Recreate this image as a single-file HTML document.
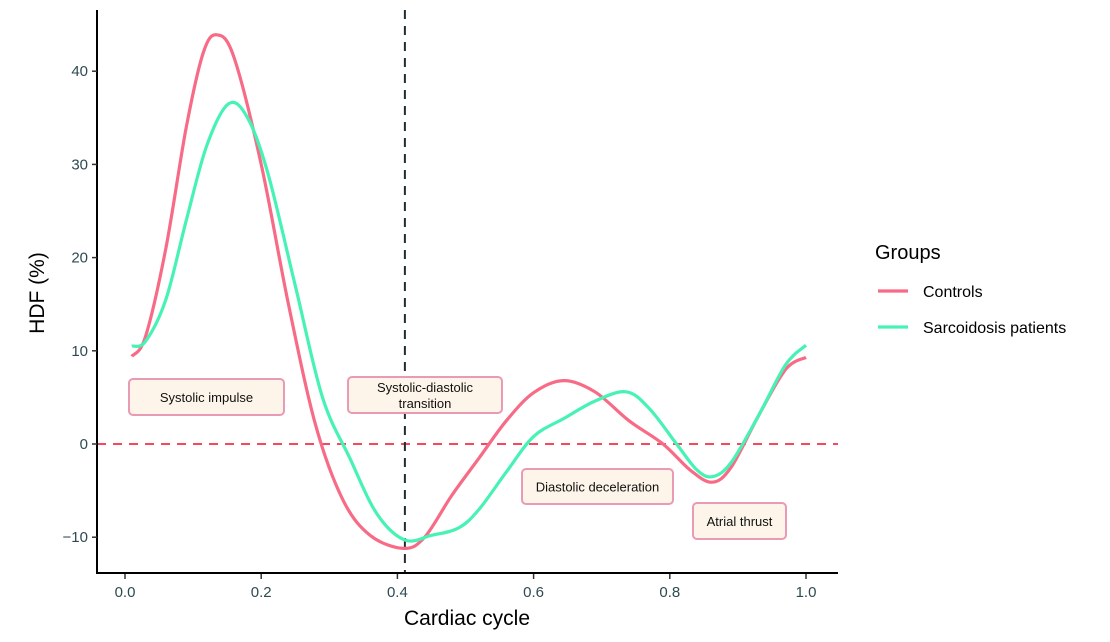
<!DOCTYPE html>
<html><head><meta charset="utf-8"><style>
html,body{margin:0;padding:0;background:#fff;}
svg{display:block;font-family:"Liberation Sans",sans-serif;}
</style></head><body>
<svg id="chart" width="1110" height="642" viewBox="0 0 1110 642"></svg>
<script>
const controlsT = [0.01,0.03,0.06,0.09,0.115,0.135,0.16,0.20,0.24,0.28,0.32,0.36,0.409,0.44,0.48,0.52,0.56,0.60,0.644,0.69,0.74,0.79,0.83,0.862,0.89,0.93,0.97,1.0];
const controlsV = [9.4,11.5,21,34,42,43.9,41.5,30,15,2,-6,-9.8,-11.2,-10,-5.5,-1.5,2.5,5.5,6.8,5.6,2.5,0,-2.8,-4.1,-2.5,3,8,9.3];
const sarcT = [0.01,0.03,0.06,0.09,0.12,0.152,0.18,0.21,0.25,0.29,0.33,0.37,0.411,0.45,0.49,0.52,0.56,0.60,0.646,0.69,0.736,0.77,0.81,0.84,0.863,0.89,0.93,0.97,1.0];
const sarcV = [10.5,11,15.5,24,32,36.5,35,29,17,5,-1.5,-7.5,-10.3,-9.8,-9,-7,-3,0.8,2.8,4.6,5.6,3.8,0,-2.8,-3.5,-2,3,8.5,10.6];
const xTicks = [0,0.2,0.4,0.6,0.8,1.0];
const xTickLabels = ["0.0","0.2","0.4","0.6","0.8","1.0"];
const yTicks = [-10,0,10,20,30,40];
const yTickLabels = ["\u221210","0","10","20","30","40"];
const vLineX = 0.411;

const X0=125, XS=681, Y0=444, YS=9.32;
const sx = t => X0 + t*XS;
const sy = v => Y0 - v*YS;
const NS="http://www.w3.org/2000/svg";
const svg=document.getElementById('chart');
function mk(tag,attrs,parent){const e=document.createElementNS(NS,tag);for(const k in attrs)e.setAttribute(k,attrs[k]);(parent||svg).appendChild(e);return e;}
function smooth(ts,vs){
  const p=ts.map((t,i)=>[sx(t),sy(vs[i])]);
  let d=`M${p[0][0]},${p[0][1]}`;
  for(let i=0;i<p.length-1;i++){
    const a=p[i-1]||p[i],b=p[i],c=p[i+1],e=p[i+2]||c;
    const c1=[b[0]+(c[0]-a[0])/6,b[1]+(c[1]-a[1])/6];
    const c2=[c[0]-(e[0]-b[0])/6,c[1]-(e[1]-b[1])/6];
    d+=` C${c1[0]},${c1[1]} ${c2[0]},${c2[1]} ${c[0]},${c[1]}`;
  }
  return d;
}
let z=mk('line',{x1:97,x2:838,y1:sy(0),y2:sy(0),stroke:'#f5485e','stroke-width':2,'stroke-dasharray':'9,7'});


let vl=mk('line',{x1:sx(vLineX),x2:sx(vLineX),y1:10,y2:573,stroke:'#1f2d33','stroke-width':2,'stroke-dasharray':'9,7'});


const boxes=[["systolic-impulse-label",129,379,155,36,["Systolic impulse"]],
["systolic-diastolic-transition-label",348,377,154,36,["Systolic-diastolic","transition"]],
["diastolic-deceleration-label",522,469,151,35,["Diastolic deceleration"]],
["atrial-thrust-label",693,503,93,36,["Atrial thrust"]]];
boxes.forEach(b=>{
  const g=mk('g',{});
  
  
  mk('rect',{x:b[1],y:b[2],width:b[3],height:b[4],rx:4,fill:'#fdf5ea',stroke:'#e99ab4','stroke-width':2},g);
  const cx=b[1]+b[3]/2,cy=b[2]+b[4]/2;
  b[5].forEach((s,i)=>{const t=mk('text',{x:cx,y:cy+5+(i-(b[5].length-1)/2)*16,'text-anchor':'middle','font-size':13,fill:'#111'},g);t.textContent=s;});
});
let pc=mk('path',{d:smooth(controlsT,controlsV),fill:'none',stroke:'#f76b86','stroke-width':3.2,'stroke-linejoin':'round'});


let ps=mk('path',{d:smooth(sarcT,sarcV),fill:'none',stroke:'#47f2b5','stroke-width':3.2,'stroke-linejoin':'round'});


let ya=mk('line',{x1:97,x2:97,y1:10,y2:574,stroke:'#000','stroke-width':2});


let xa=mk('line',{x1:96,x2:838,y1:573,y2:573,stroke:'#000','stroke-width':2});


xTicks.forEach((t,i)=>{
  mk('line',{x1:sx(t),x2:sx(t),y1:574,y2:579,stroke:'#333','stroke-width':1.5});
  const tx=mk('text',{x:sx(t),y:597,'text-anchor':'middle','font-size':15,fill:'#2e4a50'});
  tx.textContent=xTickLabels[i];
  
  
});
yTicks.forEach((v,i)=>{
  mk('line',{x1:92,x2:97,y1:sy(v),y2:sy(v),stroke:'#333','stroke-width':1.5});
  const tx=mk('text',{x:88,y:sy(v)+5,'text-anchor':'end','font-size':15,fill:'#2e4a50'});
  tx.textContent=yTickLabels[i];
  
  
});
let xt=mk('text',{x:467,y:625,'text-anchor':'middle','font-size':21,fill:'#000'});
xt.textContent='Cardiac cycle';


let yt=mk('text',{x:44,y:293,'text-anchor':'middle','font-size':21,fill:'#000',transform:'rotate(-90 44 293)'});
yt.textContent='HDF (%)';


let lg=mk('g',{});


let lt=mk('text',{x:875,y:259,'font-size':20,fill:'#000'},lg);lt.textContent='Groups';
const legendItems=[["Controls","#f76b86",291,"legend-entry-controls"],["Sarcoidosis patients","#47f2b5",327,"legend-entry-sarcoidosis"]];
legendItems.forEach(it=>{
  const g=mk('g',{},lg);
  
  
  mk('line',{x1:878,x2:908,y1:it[2],y2:it[2],stroke:it[1],'stroke-width':3.2},g);
  const t=mk('text',{x:923,y:it[2]+6,'font-size':16,fill:'#000'},g);t.textContent=it[0];
});
</script>
</body></html>
